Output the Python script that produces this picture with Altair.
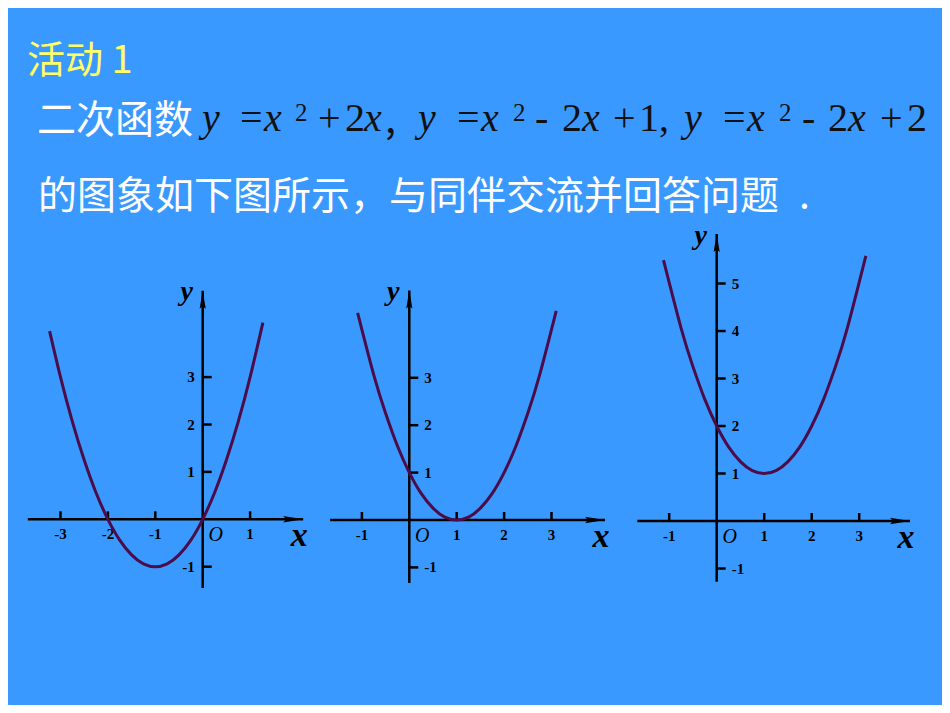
import altair as alt
import pandas as pd

W, H = 934, 697          # whole chart (page minus 8px margin on each side)
OFF = 8                  # page margin, used to convert page px to chart px
BG = "#3A99FF"
CURVE = "#4B0C48"
AX = "#000000"
SERIF = "Liberation Serif"
CJK = "Noto Sans CJK SC"

# ---------------- data ----------------
# panel 1: y = x^2 + 2x
p1_x = [-3.23, -3.0, -2.75, -2.5, -2.25, -2.0, -1.75, -1.5, -1.25, -1.0,
        -0.75, -0.5, -0.25, 0.0, 0.25, 0.5, 0.75, 1.0, 1.27]
p1_y = [3.97, 3.0, 2.06, 1.25, 0.56, 0.0, -0.44, -0.75, -0.94, -1.0,
        -0.94, -0.75, -0.44, 0.0, 0.56, 1.25, 2.06, 3.0, 4.15]
p1_xticks = [-3, -2, -1, 1]
p1_xlabels = ["-3", "-2", "-1", "1"]
p1_yticks = [-1, 1, 2, 3]
p1_ylabels = ["-1", "1", "2", "3"]
p1_xaxis = [-3.69, 2.12]
p1_yaxis = [-1.45, 4.82]

# panel 2: y = x^2 - 2x + 1
p2_x = [-1.09, -0.75, -0.5, -0.25, 0.0, 0.25, 0.5, 0.75, 1.0, 1.25, 1.5,
        1.75, 2.0, 2.25, 2.5, 2.75, 3.1]
p2_y = [4.37, 3.06, 2.25, 1.56, 1.0, 0.56, 0.25, 0.06, 0.0, 0.06, 0.25,
        0.56, 1.0, 1.56, 2.25, 3.06, 4.41]
p2_xticks = [-1, 1, 2, 3]
p2_xlabels = ["-1", "1", "2", "3"]
p2_yticks = [-1, 1, 2, 3]
p2_ylabels = ["-1", "1", "2", "3"]
p2_xaxis = [-1.67, 4.13]
p2_yaxis = [-1.33, 4.84]

# panel 3: y = x^2 - 2x + 2
p3_x = [-1.12, -0.75, -0.5, -0.25, 0.0, 0.25, 0.5, 0.75, 1.0, 1.25, 1.5,
        1.75, 2.0, 2.25, 2.5, 2.75, 3.14]
p3_y = [5.49, 4.06, 3.25, 2.56, 2.0, 1.56, 1.25, 1.06, 1.0, 1.06, 1.25,
        1.56, 2.0, 2.56, 3.25, 4.06, 5.58]
p3_xticks = [-1, 1, 2, 3]
p3_xlabels = ["-1", "1", "2", "3"]
p3_yticks = [-1, 1, 2, 3, 4, 5]
p3_ylabels = ["-1", "1", "2", "3", "4", "5"]
p3_xaxis = [-1.67, 4.07]
p3_yaxis = [-1.28, 6.04]

# header text
title_text = "活动 1"
line1_text = "二次函数"
line2_text = "的图象如下图所示，与同伴交流并回答问题"
period_text = "."
# math pieces: (text, kind)
math_pieces = [
    ("y", "it"), ("=", "up"), ("x", "it"), ("2", "sup"), ("+", "up"), ("2", "up"), ("x", "it"), (",", "cjk"),
    ("y", "it"), ("=", "up"), ("x", "it"), ("2", "sup"), ("-", "up"), ("2", "up"), ("x", "it"), ("+", "up"), ("1,", "up"),
    ("y", "it"), ("=", "up"), ("x", "it"), ("2", "sup"), ("-", "up"), ("2", "up"), ("x", "it"), ("+", "up"), ("2", "up"),
]
# layout: left page-x of each math piece
math_left = [202, 240, 264, 295, 318, 345, 364, 385,
             418, 457, 481, 513, 535, 562, 582, 613, 639,
             684, 723, 747, 779, 802, 828, 848, 880, 907]

# ---------------- panels ----------------
# layout: (origin page x, origin page y, px per unit)
layouts = [(202.7, 519.3, 47.4), (409.3, 520.0, 47.4), (716.7, 521.0, 47.5)]


def panel(cx, cy, xt, xl, yt, yl, xa, ya, lay, ylab_left, ylab_dy, ylbl_dy):
    ox, oy, u = lay
    ox -= OFF
    oy -= OFF
    xs = alt.Scale(domain=[-ox / u, (W - ox) / u], nice=False, zero=False)
    ys = alt.Scale(domain=[-(H - oy) / u, oy / u], nice=False, zero=False)

    def X(f):
        return alt.X(f, type="quantitative", scale=xs, axis=None)

    def Y(f):
        return alt.Y(f, type="quantitative", scale=ys, axis=None)

    layers = []
    xaxis_df = pd.DataFrame({"a": [xa[0]], "b": [xa[1]], "z": [0]})
    yaxis_df = pd.DataFrame({"a": [ya[0]], "b": [ya[1]], "z": [0]})
    layers.append(alt.Chart(xaxis_df).mark_rule(color=AX, strokeWidth=2.5).encode(
        x=X("a"), x2=alt.X2("b"), y=Y("z")))
    layers.append(alt.Chart(yaxis_df).mark_rule(color=AX, strokeWidth=2.5).encode(
        y=Y("a"), y2=alt.Y2("b"), x=X("z")))
    # arrow heads
    layers.append(alt.Chart(xaxis_df).mark_point(
        shape="M0,0 L-2,-0.32 L-1.7,0 L-2,0.32 Z", size=400, filled=True,
        color=AX, opacity=1, strokeWidth=0).encode(x=X("b"), y=Y("z")))
    layers.append(alt.Chart(yaxis_df).mark_point(
        shape="M0,0 L-0.34,2 L0,1.7 L0.34,2 Z", size=324, filled=True,
        color=AX, opacity=1, strokeWidth=0).encode(x=X("z"), y=Y("b")))
    # ticks
    xt_df = pd.DataFrame({"t": xt, "lab": xl, "z": [0] * len(xt)})
    yt_df = pd.DataFrame({"t": yt, "lab": yl, "z": [0] * len(yt)})
    layers.append(alt.Chart(xt_df).mark_rule(color=AX, strokeWidth=2.5, y2Offset=-8).encode(
        x=X("t"), y=Y("z"), y2=alt.Y2("z")))
    layers.append(alt.Chart(yt_df).mark_rule(color=AX, strokeWidth=2.5, x2Offset=9).encode(
        y=Y("t"), x=X("z"), x2=alt.X2("z")))
    # tick labels
    layers.append(alt.Chart(xt_df).mark_text(
        font=SERIF, fontWeight="bold", fontSize=15, color=AX, dy=15,
        align="center", baseline="middle").encode(x=X("t"), y=Y("z"), text="lab:N"))
    if ylab_left:
        layers.append(alt.Chart(yt_df).mark_text(
            font=SERIF, fontWeight="bold", fontSize=15, color=AX, dx=-8, dy=ylab_dy,
            align="right", baseline="middle").encode(x=X("z"), y=Y("t"), text="lab:N"))
    else:
        layers.append(alt.Chart(yt_df).mark_text(
            font=SERIF, fontWeight="bold", fontSize=15, color=AX, dx=15, dy=ylab_dy,
            align="left", baseline="middle").encode(x=X("z"), y=Y("t"), text="lab:N"))
    # curve
    curve_df = pd.DataFrame({"x": cx, "y": cy})
    layers.append(alt.Chart(curve_df).mark_line(
        color=CURVE, strokeWidth=3, interpolate="natural").encode(x=X("x"), y=Y("y")))
    # O, x, y labels
    o_df = pd.DataFrame({"z": [0], "t": ["O"]})
    layers.append(alt.Chart(o_df).mark_text(
        font=SERIF, fontStyle="italic", fontSize=20, color=AX, dx=13, dy=16,
        align="center", baseline="middle").encode(x=X("z"), y=Y("z"), text="t:N"))
    xl_df = pd.DataFrame({"a": [xa[1]], "z": [0], "t": ["x"]})
    layers.append(alt.Chart(xl_df).mark_text(
        font=SERIF, fontStyle="italic", fontWeight="bold", fontSize=34, color=AX,
        dx=-4, dy=17, align="center", baseline="middle").encode(
        x=X("a"), y=Y("z"), text="t:N"))
    yl_df = pd.DataFrame({"b": [ya[1]], "z": [0], "t": ["y"]})
    layers.append(alt.Chart(yl_df).mark_text(
        font=SERIF, fontStyle="italic", fontWeight="bold", fontSize=28, color=AX,
        dx=-16, dy=ylbl_dy, align="center", baseline="middle").encode(
        x=X("z"), y=Y("b"), text="t:N"))
    return layers


layers = []
layers += panel(p1_x, p1_y, p1_xticks, p1_xlabels, p1_yticks, p1_ylabels,
                p1_xaxis, p1_yaxis, layouts[0], True, 0, 1)
layers += panel(p2_x, p2_y, p2_xticks, p2_xlabels, p2_yticks, p2_ylabels,
                p2_xaxis, p2_yaxis, layouts[1], False, 0, 1)
layers += panel(p3_x, p3_y, p3_xticks, p3_xlabels, p3_yticks, p3_ylabels,
                p3_xaxis, p3_yaxis, layouts[2], False, 0, 2)

# ---------------- header text (pixel scale) ----------------
HXs = alt.Scale(domain=[0, W], nice=False, zero=False)
HYs = alt.Scale(domain=[0, H], nice=False, zero=False, reverse=True)


def HX(f):
    return alt.X(f, type="quantitative", scale=HXs, axis=None)


def HY(f):
    return alt.Y(f, type="quantitative", scale=HYs, axis=None)


def text_layer(texts, xs, ys, **kw):
    df = pd.DataFrame({"t": texts, "px": [v - OFF for v in xs], "py": [v - OFF for v in ys]})
    return alt.Chart(df).mark_text(align="left", baseline="alphabetic", **kw).encode(
        x=HX("px"), y=HY("py"), text="t:N")


layers.append(text_layer([title_text], [27], [73], font=CJK, fontSize=38, color="#FFFF66"))
layers.append(text_layer([line1_text, line2_text, period_text], [37, 38, 799], [133, 209, 209],
                         font=CJK, fontSize=39, color="#FFFFFF"))

groups = {"it": [], "up": [], "sup": [], "cjk": []}
for (t, k), left in zip(math_pieces, math_left):
    groups[k].append((t, left))
MATH = "#111111"
layers.append(text_layer([t for t, _ in groups["it"]], [l for _, l in groups["it"]],
                         [131] * len(groups["it"]), font=SERIF, fontStyle="italic",
                         fontSize=40, color=MATH))
layers.append(text_layer([t for t, _ in groups["up"]], [l for _, l in groups["up"]],
                         [131] * len(groups["up"]), font=SERIF, fontSize=40, color=MATH))
layers.append(text_layer([t for t, _ in groups["sup"]], [l for _, l in groups["sup"]],
                         [121] * len(groups["sup"]), font=SERIF, fontSize=25, color=MATH))
layers.append(text_layer([t for t, _ in groups["cjk"]], [l for _, l in groups["cjk"]],
                         [133] * len(groups["cjk"]), font=CJK, fontSize=39, color=MATH))

chart = alt.layer(*layers).resolve_scale(x="independent", y="independent").properties(
    width=W, height=H, padding=0,
    autosize=alt.AutoSizeParams(type="none"),
    background=BG,
).configure_view(strokeWidth=0)

chart.save("out.html", embed_options={"renderer": "svg", "actions": False})
